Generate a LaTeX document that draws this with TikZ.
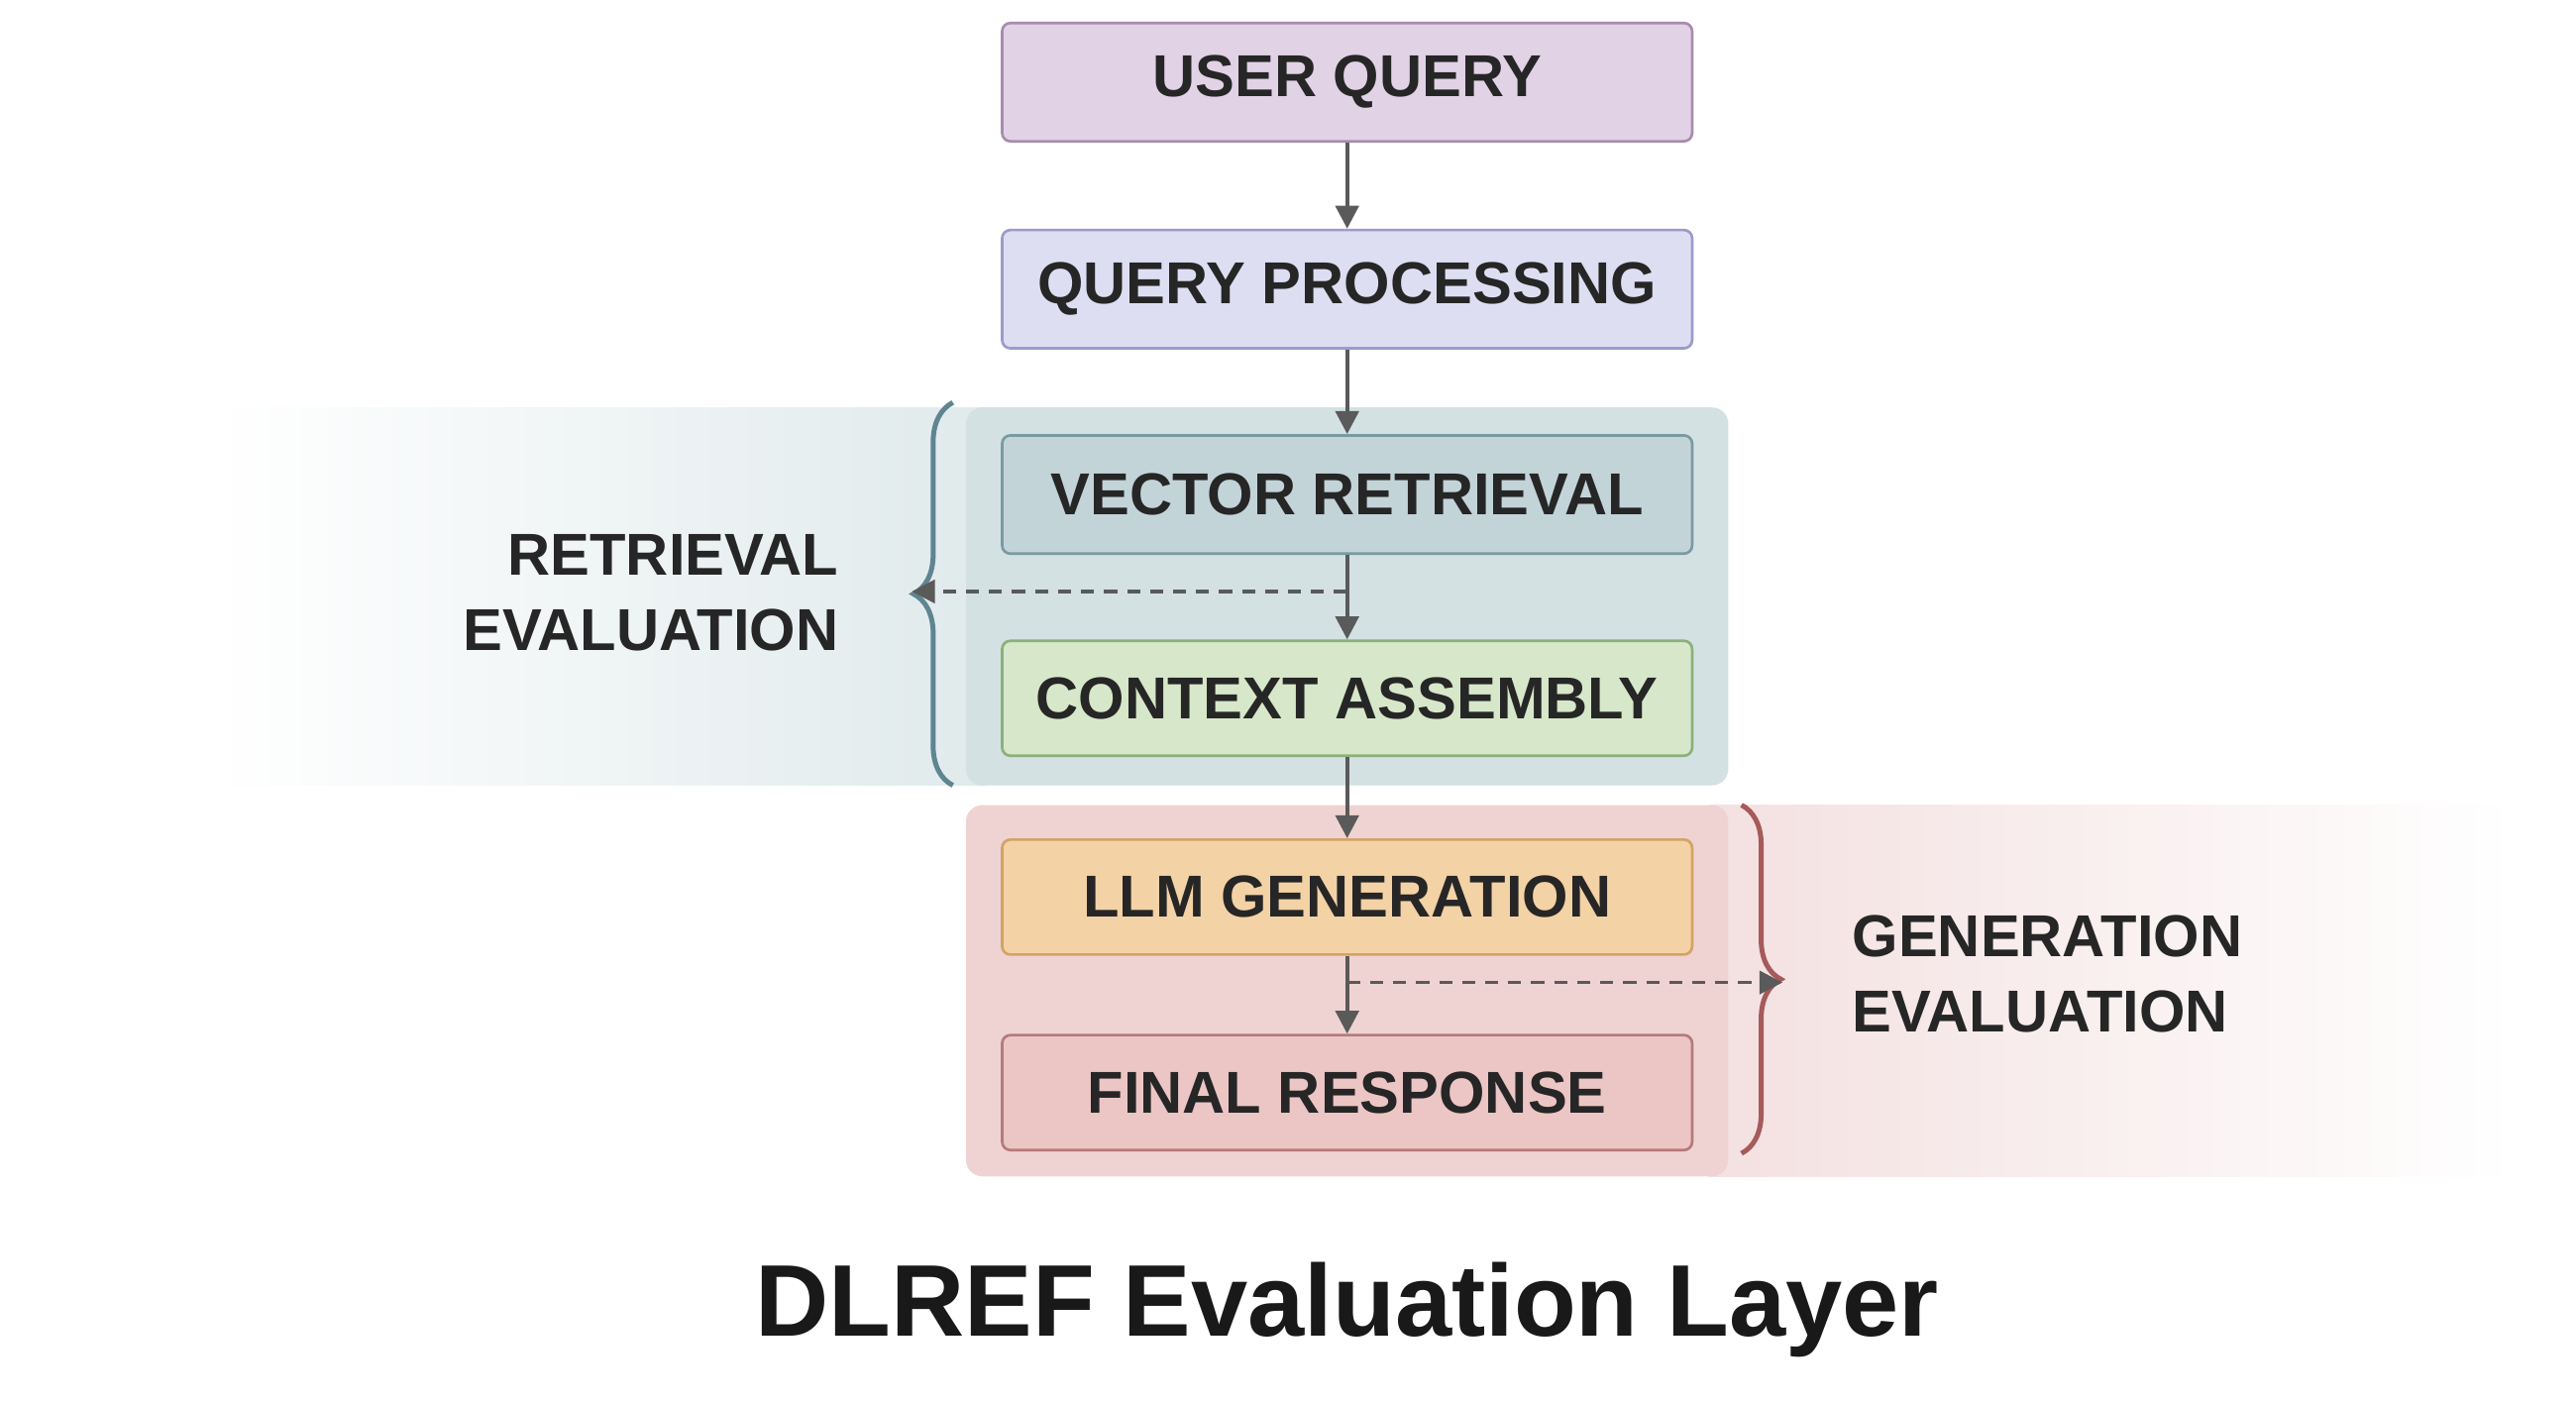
\documentclass[tikz,border=0pt]{standalone}
\usepackage{fontspec}
\setmainfont{Liberation Sans}
\usetikzlibrary{arrows.meta,decorations.pathreplacing}
\definecolor{uqf}{HTML}{E2D2E6}\definecolor{uqd}{HTML}{A88BAE}
\definecolor{qpf}{HTML}{DEDEF3}\definecolor{qpd}{HTML}{9D9ACB}
\definecolor{vrf}{HTML}{C3D4D9}\definecolor{vrd}{HTML}{7A9AA3}
\definecolor{caf}{HTML}{D7E7C9}\definecolor{cad}{HTML}{8CB07A}
\definecolor{lgf}{HTML}{F3D2A6}\definecolor{lgd}{HTML}{D4A266}
\definecolor{frf}{HTML}{ECC5C5}\definecolor{frd}{HTML}{B57A7A}
\definecolor{rpan}{HTML}{D3E1E3}\definecolor{gpan}{HTML}{EFD3D3}
\definecolor{rbr}{HTML}{5F8591}\definecolor{gbr}{HTML}{A65A5A}
\definecolor{arr}{HTML}{5A5A5A}
\begin{document}
\begin{tikzpicture}[x=1pt,y=-1pt,
 box/.style={draw,line width=1.6pt,rounded corners=5pt,minimum width=420pt,minimum height=72pt,font=\fontsize{36}{40}\selectfont\bfseries,text=black!85},
 flow/.style={draw=arr,line width=2.6pt,-{Triangle[length=14pt,width=14pt]}},
 dashed conn/.style={draw=arr,line width=2.2pt,dash pattern=on 8pt off 6pt,-{Triangle[length=14pt,width=14pt]}},
 lab/.style={font=\fontsize{36}{46}\selectfont\bfseries,text=black!85}]
\useasboundingbox (0,0) rectangle (1568,855);
\fill[white] (0,0) rectangle (1568,855);
% bands
\shade[left color=white,right color=rpan!70] (130,248) rectangle (600,478);
\shade[left color=gpan!70,right color=white] (1040,490) rectangle (1530,716);
\fill[rpan,rounded corners=10pt] (588,248) rectangle (1052,478);
\fill[gpan,rounded corners=10pt] (588,490) rectangle (1052,716);
% boxes
\node[box,fill=uqf,draw=uqd] (uq) at (820,50) {USER QUERY};
\node[box,fill=qpf,draw=qpd] (qp) at (820,176) {QUERY PROCESSING};
\node[box,fill=vrf,draw=vrd] (vr) at (820,301) {VECTOR RETRIEVAL};
\node[box,fill=caf,draw=cad,minimum height=70pt] (ca) at (820,425) {CONTEXT ASSEMBLY};
\node[box,fill=lgf,draw=lgd,minimum height=70pt] (lg) at (820,546) {LLM GENERATION};
\node[box,fill=frf,draw=frd,minimum height=70pt] (fr) at (820,665) {FINAL RESPONSE};
\draw[flow] (uq) -- (qp);
\draw[flow] (qp) -- (vr);
\draw[flow] (vr) -- (ca);
\draw[flow] (ca) -- (lg);
\draw[flow] (lg) -- (fr);
% braces
\coordinate (rb1) at (580,478); \coordinate (rb2) at (580,245);
\draw[rbr,line width=3pt,decorate,decoration={brace,amplitude=24pt}] (rb1) -- (rb2);
\coordinate (gb1) at (1060,490); \coordinate (gb2) at (1060,702);
\draw[gbr,line width=3pt,decorate,decoration={brace,amplitude=24pt}] (gb1) -- (gb2);
\coordinate (d1) at (820,360); \coordinate (d1e) at (555,360);
\draw[dashed conn] (d1) -- (d1e);
\coordinate (d2) at (820,598); \coordinate (d2e) at (1085,598);
\draw[dashed conn] (d2) -- (d2e);
\node[lab,align=right,anchor=east] (rl) at (514,361) {RETRIEVAL\\EVALUATION};
\node[lab,align=left,anchor=west] (gl) at (1124,593) {GENERATION\\EVALUATION};
\node[font=\fontsize{62}{70}\selectfont\bfseries,text=black!90] (title) at (820,797) {DLREF Evaluation Layer};
\end{tikzpicture}
\end{document}
